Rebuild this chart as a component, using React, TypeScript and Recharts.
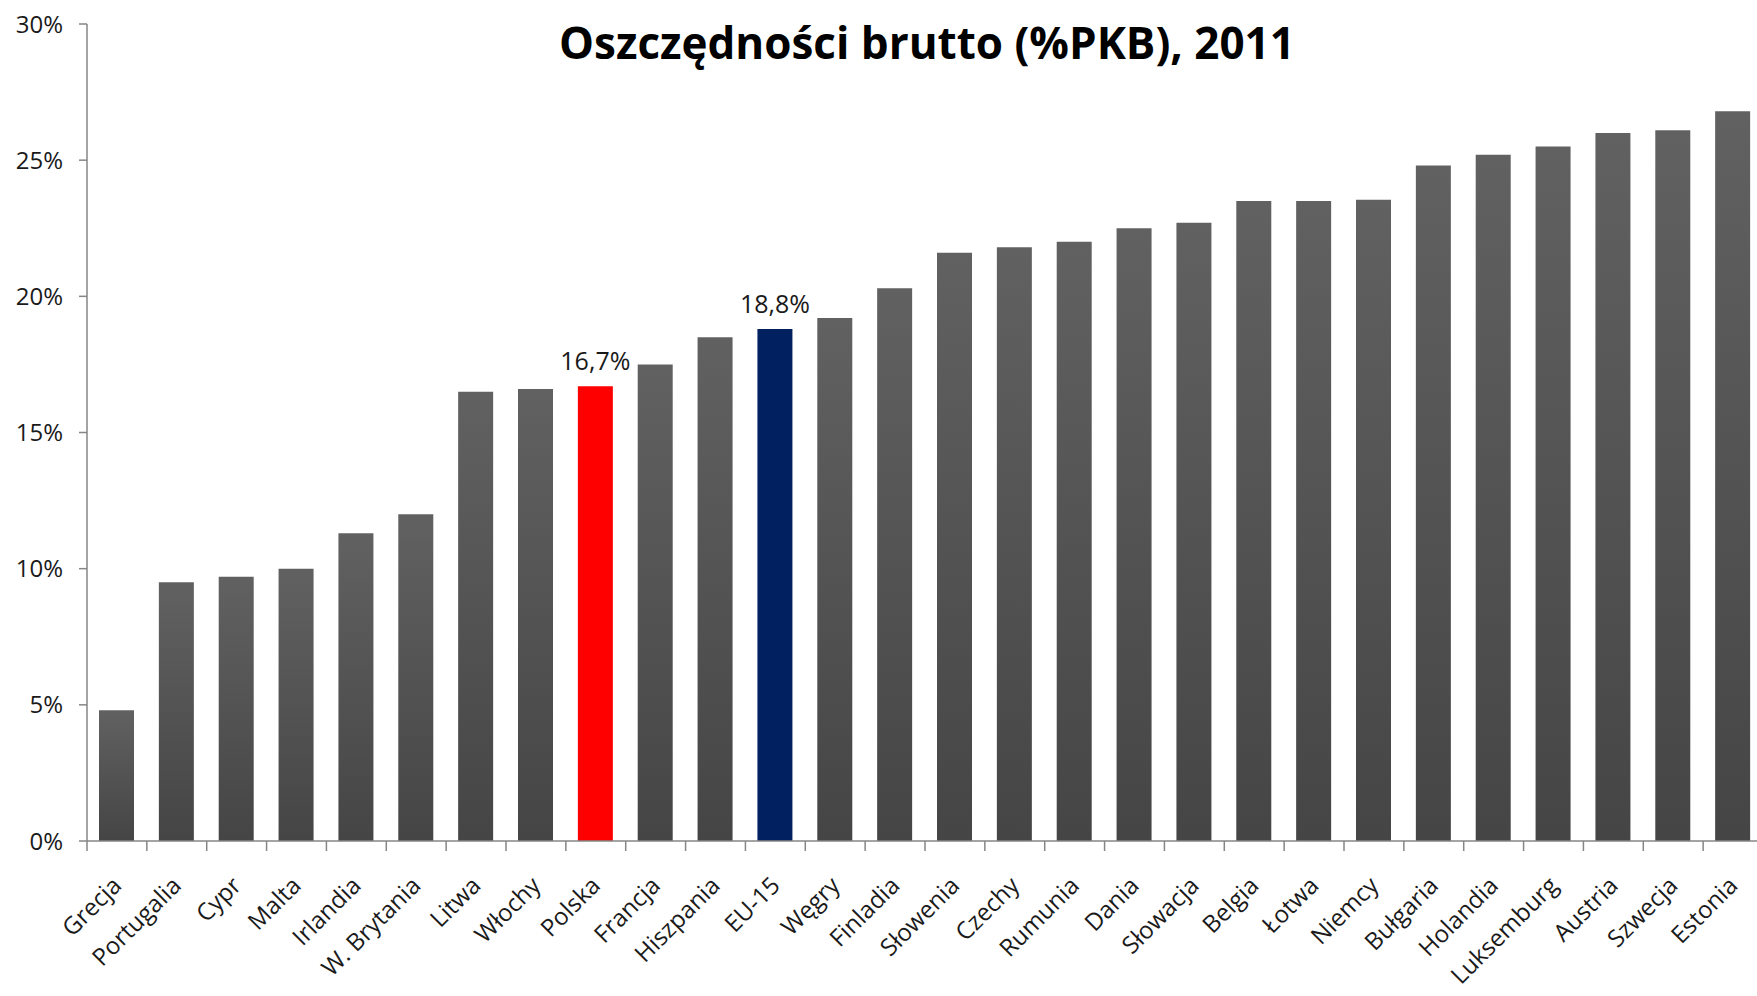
import { BarChart, Bar, XAxis, YAxis, Cell, LabelList } from 'recharts';

const categories = [
  'Grecja', 'Portugalia', 'Cypr', 'Malta', 'Irlandia', 'W. Brytania', 'Litwa',
  'Włochy', 'Polska', 'Francja', 'Hiszpania', 'EU-15', 'Węgry', 'Finladia',
  'Słowenia', 'Czechy', 'Rumunia', 'Dania', 'Słowacja', 'Belgia', 'Łotwa',
  'Niemcy', 'Bułgaria', 'Holandia', 'Luksemburg', 'Austria', 'Szwecja', 'Estonia',
];

const savingsRate = [
  4.8, 9.5, 9.7, 10.0, 11.3, 12.0, 16.5, 16.6, 16.7, 17.5, 18.5, 18.8, 19.2, 20.3,
  21.6, 21.8, 22.0, 22.5, 22.7, 23.5, 23.5, 23.55, 24.8, 25.2, 25.5, 26.0, 26.1, 26.8,
];

const labelledCategories = ['Polska', 'EU-15'];
const yTicks = [0, 5, 10, 15, 20, 25, 30];

const highlightColors: Record<string, string> = {
  Polska: '#ff0000',
  'EU-15': '#002060',
};

const formatPct = (v: number) => v.toFixed(1).replace('.', ',') + '%';

const data = categories.map((country, i) => ({
  country,
  value: savingsRate[i],
  label: labelledCategories.includes(country) ? formatPct(savingsRate[i]) : undefined,
}));

const CHART_W = 1763;
const CHART_H = 996;
const Y_AXIS_W = 87;
const BAND = (CHART_W - Y_AXIS_W) / categories.length;

const FONT = '"Open Sans", "DejaVu Sans", sans-serif';

type TickProps = {
  x: number;
  y: number;
  payload: { value: string; offset?: number };
};

const CountryTick = ({ x, y, payload }: TickProps) => {
  const half = payload.offset || BAND / 2;
  const tx = x + 6;
  const ty = y + 46;
  return (
    <g>
      <line x1={x - half} y1={y} x2={x - half} y2={y + 10} stroke="#868686" strokeWidth={1.5} />
      <text
        x={tx}
        y={ty}
        textAnchor="end"
        transform={`rotate(-45, ${tx}, ${ty})`}
        fontFamily={FONT}
        fontSize={24}
        fill="#1a1a1a"
      >
        {payload.value}
      </text>
    </g>
  );
};

const App = () => {
  return (
    <div style={{ position: 'absolute', left: 0, top: 0, width: 1757, height: 996, overflow: 'hidden', background: '#fff' }}>
      <div
        style={{
          position: 'absolute',
          left: 927,
          top: 12,
          transform: 'translateX(-50%)',
          whiteSpace: 'nowrap',
          fontFamily: FONT,
          fontWeight: 700,
          fontSize: 44,
          lineHeight: '60px',
          color: '#000',
        }}
      >
        Oszczędności brutto (%PKB), 2011
      </div>
      <BarChart
        width={CHART_W}
        height={CHART_H}
        data={data}
        margin={{ top: 24, right: 0, bottom: 0, left: 0 }}
      >
        <defs>
          <linearGradient id="greyBar" x1="0" y1="0" x2="0" y2="1">
            <stop offset="0%" stopColor="#616161" />
            <stop offset="100%" stopColor="#454545" />
          </linearGradient>
        </defs>
        <XAxis
          dataKey="country"
          interval={0}
          height={155}
          tickLine={false}
          tickSize={0}
          tickMargin={0}
          axisLine={{ stroke: '#868686', strokeWidth: 1.5 }}
          tick={(props: any) => <CountryTick {...props} />}
        />
        <YAxis
          width={Y_AXIS_W}
          domain={[0, 30]}
          ticks={yTicks}
          interval={0}
          tickFormatter={(v: number) => v + '%'}
          tickSize={8}
          tickMargin={16}
          axisLine={{ stroke: '#868686', strokeWidth: 1.5 }}
          tickLine={{ stroke: '#868686', strokeWidth: 1.5 }}
          tick={{ fontFamily: FONT, fontSize: 24, fill: '#1a1a1a' }}
        />
        <Bar dataKey="value" barSize={35} fill="url(#greyBar)" isAnimationActive={false}>
          {data.map((d) => (
            <Cell key={d.country} fill={highlightColors[d.country] || 'url(#greyBar)'} />
          ))}
          <LabelList
            dataKey="label"
            position="top"
            offset={16}
            style={{ fontFamily: FONT, fontSize: 25, fill: '#1a1a1a' }}
          />
        </Bar>
      </BarChart>
    </div>
  );
};

export default App;
